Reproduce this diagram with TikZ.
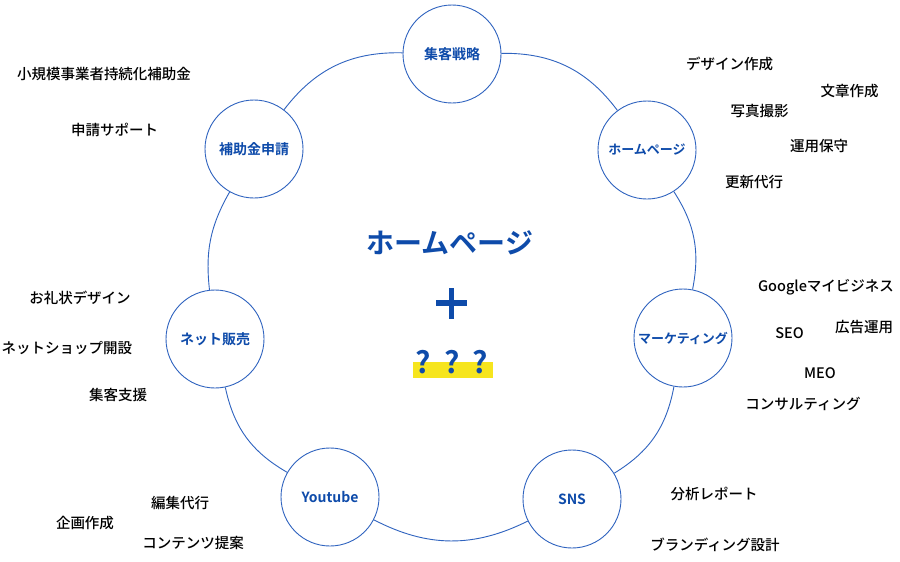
\documentclass[tikz,border=0pt]{standalone}
\usepackage{fontspec}
\setmainfont{Noto Sans CJK JP}[UprightFont={* Medium}, BoldFont={* Bold}]
\definecolor{lineblue}{HTML}{2F63BF}
\definecolor{textblue}{HTML}{0E4BAA}
\definecolor{hlyellow}{HTML}{F6E51E}
\tikzset{
  hub/.style={circle, draw=lineblue, line width=0.9pt, fill=white, minimum size=98pt, inner sep=0pt,
    text=textblue, font=\fontsize{14}{14}\selectfont\bfseries},
  kana/.style={font=\fontsize{13}{13}\selectfont\bfseries},
  item/.style={inner sep=0pt, text=black, font=\fontsize{14.5}{15}\selectfont},
  link/.style={draw=lineblue, line width=0.9pt},
  qmark/.style={inner sep=0pt, text=textblue, font=\fontsize{30}{30}\selectfont\bfseries}
}
\begin{document}
\begin{tikzpicture}[x=1pt,y=-1pt]
\useasboundingbox (0,0) rectangle (900,562);
\fill[white] (0,0) rectangle (900,562);

% hubs
\node[hub] (strat) at (452,54) {集客戦略};
\node[hub,kana] (hp) at (647,150) {ホームページ};
\node[hub,kana] (mkt) at (683,338) {マーケティング};
\node[hub] (sns) at (572,499) {SNS};
\node[hub] (yt) at (330,497) {Youtube};
\node[hub] (net) at (215,339) {ネット販売};
\node[hub] (sub) at (254,149) {補助金申請};

% ring connectors
\draw[link] (strat) to[bend left=27] (hp);
\draw[link] (hp) to[bend left=22] (mkt);
\draw[link] (mkt) to[bend left=24] (sns);
\draw[link] (sns) to[bend left=27] (yt);
\draw[link] (yt) to[bend left=24] (net);
\draw[link] (net) to[bend left=18] (sub);
\draw[link] (sub) to[bend left=27] (strat);

% centre
\node[inner sep=0pt, text=textblue, font=\fontsize{28}{28}\selectfont\bfseries] (title) at (450,243) {ホームページ};
\coordinate (plusc) at (451.5,303);
\draw[textblue, line width=5.5pt] ([xshift=-15.5pt]plusc) -- ([xshift=15.5pt]plusc);
\draw[textblue, line width=5.5pt] ([yshift=-15.5pt]plusc) -- ([yshift=15.5pt]plusc);
\fill[hlyellow] (413,362) rectangle (493,378);
\node[qmark] (q1) at (423.5,362) {?};
\node[qmark] (q2) at (452,362) {?};
\node[qmark] (q3) at (480,362) {?};

% items around
\node[item] (i1) at (104,74) {小規模事業者持続化補助金};
\node[item] (i2) at (114.5,130) {申請サポート};
\node[item] (i3) at (729.5,64) {デザイン作成};
\node[item] (i4) at (849.5,91) {文章作成};
\node[item] (i5) at (759.5,111) {写真撮影};
\node[item] (i6) at (819,146) {運用保守};
\node[item] (i7) at (754,182) {更新代行};
\node[item] (i8) at (826,287) {Googleマイビジネス};
\node[item] (i9) at (789.5,333) {SEO};
\node[item] (i10) at (864,327) {広告運用};
\node[item] (i11) at (820,373) {MEO};
\node[item] (i12) at (803,404) {コンサルティング};
\node[item] (i13) at (80,298) {お礼状デザイン};
\node[item] (i14) at (67,348) {ネットショップ開設};
\node[item] (i15) at (118,395) {集客支援};
\node[item] (i16) at (180,503) {編集代行};
\node[item] (i17) at (85,523) {企画作成};
\node[item] (i18) at (193,543) {コンテンツ提案};
\node[item] (i19) at (714,494) {分析レポート};
\node[item] (i20) at (715,545) {ブランディング設計};
\end{tikzpicture}
\end{document}
